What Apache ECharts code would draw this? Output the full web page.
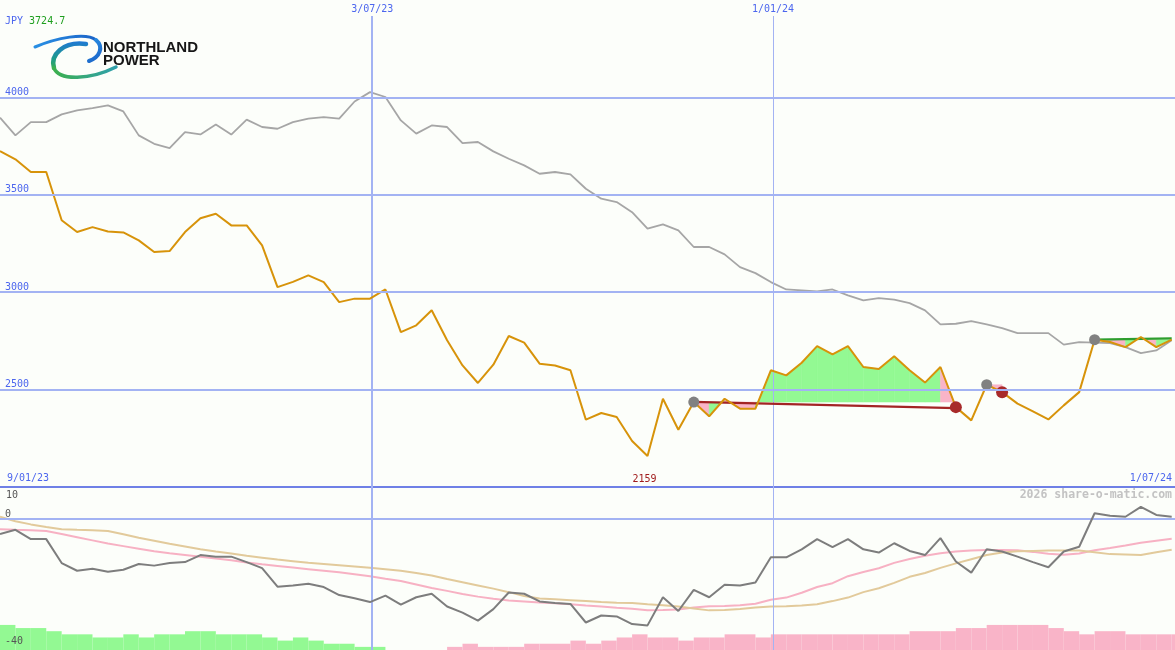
<!DOCTYPE html>
<html><head><meta charset="utf-8">
<script src="https://cdn.jsdelivr.net/npm/echarts@6/dist/echarts.min.js"></script>
<style>html,body{margin:0;padding:0;background:#fcfefa}#c{width:1175px;height:650px}</style>
</head><body><div id="c"></div>
<script>
// ---------- data ----------
const firstWeek = [2023, 0, 15];          // first weekly point
const axisEnd = [2024, 6, 1, 12];         // right edge of the time axis
const headerCurrency = 'JPY';
const headerValue = '3724.7';

const price = [3724.7,3682,3617,3617,3369,3309,3334,3312,3307,3266,
  3206,3211,3309,3380,3403,3343,3343,3240,3026,3053,
  3086,3052,2949,2967,2967,3014,2795,2830,2907,2753,
  2624,2534,2628,2775,2741,2633,2624,2599,2346,2380,
  2359,2236,2159,2453,2294,2436,2363,2453,2402,2402,
  2599,2573,2638,2723,2681,2723,2616,2606,2671,2599,
  2536,2616,2410,2342,2525,2487,2428,2388,2347,2419,
  2487,2756,2744,2718,2770,2718,2757];

const priceAvg = [3896,3805,3873,3873,3913,3933,3945,3959,3928,3805,
  3762,3740,3822,3810,3861,3809,3886,3848,3839,3873,
  3891,3899,3891,3979,4027,4002,3882,3814,3856,3848,
  3765,3771,3723,3685,3651,3608,3617,3605,3531,3480,
  3463,3411,3326,3348,3317,3232,3232,3194,3129,3098,
  3052,3014,3009,3004,3014,2984,2958,2970,2962,2944,
  2907,2835,2838,2852,2835,2816,2790,2790,2790,2731,
  2744,2741,2739,2718,2687,2701,2753];

const momentum = [-4.7,-3.4,-6.3,-6.3,-13.8,-16.2,-15.6,-16.5,-15.9,-14.1,
  -14.6,-13.8,-13.5,-11.3,-11.8,-11.8,-13.5,-15.4,-21.2,-20.8,
  -20.3,-21.3,-23.8,-24.8,-26,-24,-26.8,-24.5,-23.4,-27.4,
  -29.3,-31.8,-28.2,-23.0,-23.4,-25.8,-26.3,-26.6,-32.4,-30.2,
  -30.5,-32.9,-33.3,-24.5,-28.8,-22.2,-24.5,-20.6,-20.8,-19.9,
  -12.0,-12.0,-9.5,-6.3,-8.8,-6.3,-9.5,-10.5,-7.6,-10,
  -11.3,-6.0,-13.3,-16.8,-9.5,-10.2,-11.8,-13.5,-15.1,-10.2,
  -8.7,1.8,1.0,0.7,3.8,1.25,0.7];

const momentumFast = [-3.2,-3.4,-3.5,-3.8,-4.7,-5.7,-6.7,-7.7,-8.5,-9.3,
  -10.1,-10.7,-11.25,-11.8,-12.4,-12.9,-13.6,-14.2,-14.7,-15.2,
  -15.7,-16.2,-16.7,-17.3,-17.9,-18.7,-19.4,-20.5,-21.6,-22.5,
  -23.5,-24.3,-25,-25.5,-25.8,-26.1,-26.4,-26.7,-27.1,-27.4,
  -27.8,-28.1,-28.6,-28.5,-28.3,-27.7,-27.3,-27.2,-27,-26.5,
  -25.3,-24.6,-23.1,-21.3,-20.1,-17.9,-16.6,-15.4,-13.75,-12.5,
  -11.5,-10.7,-10.2,-9.9,-9.7,-9.75,-9.8,-10.3,-10.9,-11.2,
  -10.8,-9.8,-9.1,-8.3,-7.45,-6.8,-6.2];

const momentumSlow = [0.7,-0.7,-1.7,-2.5,-3.2,-3.4,-3.5,-3.75,-4.8,-5.9,
  -6.8,-7.75,-8.6,-9.5,-10.2,-10.8,-11.5,-12.1,-12.7,-13.2,
  -13.7,-14.1,-14.5,-14.9,-15.3,-15.75,-16.2,-16.9,-17.7,-18.8,
  -19.8,-20.8,-21.8,-22.9,-24.1,-24.9,-25.1,-25.4,-25.7,-26,
  -26.2,-26.3,-26.7,-27,-27.4,-28,-28.6,-28.5,-28.2,-27.7,
  -27.4,-27.3,-27.1,-26.7,-25.7,-24.6,-22.9,-21.7,-20,-18.1,
  -16.9,-15.3,-13.9,-12.6,-11.3,-10.5,-10.1,-10,-9.9,-9.9,
  -9.9,-10.4,-11,-11.1,-11.25,-10.4,-9.6];

// signed strength histogram (+ green, - pink)
const histogram = [8,7,7,6,5,5,4,4,5,4, 5,5,6,6,5,5,5,4,3,4,
  3,2,2,1,1,0,0,0,0,-1, -2,-1,-1,-1,-2,-2,-2,-3,-2,-3,
  -4,-5,-4,-4,-3,-4,-4,-5,-5,-4, -5,-5,-5,-5,-5,-5,-5,-5,-5,-6,
  -6,-6,-7,-7,-8,-8,-8,-8,-7,-6, -5,-6,-6,-5,-5,-5,-5];

// trade signals (week indices)
const signalStart = [45, 64, 71];
const signalEnd = [62, 65, 76];
const exitWeeks = [62, 65];
const redStop = [2437, 2405];      // from signalStart[0] to signalEnd[0]
const greenStop = [2757, 2763];    // from signalStart[2] to signalEnd[2]

const dateLines = ['2023-07-03', '2024-01-01'];
const dateLineLabels = ['3/07/23', '1/01/24'];
const edgeLabels = ['9/01/23', '1/07/24'];
const lowerTicks = [0, -40];
const lowerTopTick = [10];
const watermark = '2026 share-o-matic.com';

// ---------- build ----------
const DAY = 86400000;
const t0 = Date.UTC(...firstWeek);
const xMax = Date.UTC(...axisEnd);
const weeks = price.map((_, i) => t0 + i * 7 * DAY);
const pair = arr => arr.map((v, i) => [weeks[i], v]);

const C = {
  grid: '#a3b3f3', axisDark: '#6f80e6', label: '#4c66ee', orange: '#d7930a',
  grey: '#a6a6a6', green: '#93f993', pink: '#f9b4c8', red: '#a32424',
  dotRed: '#a82a2a', dotGrey: '#818181', stopGreen: '#2e9e2e'
};
const MONO = '"DejaVu Sans Mono", monospace';
const plain = v => String(v);

const fillSegments = [];
signalStart.forEach((s, k) => {
  const base = price[s];
  for (let i = s; i < signalEnd[k]; i++) {
    fillSegments.push([weeks[i], price[i], weeks[i + 1], price[i + 1], base]);
  }
});

const histData = histogram.map((v, i) => [weeks[i], i + 1 < weeks.length ? weeks[i + 1] : xMax, Math.abs(v), v])
  .filter(d => d[2] > 0);

let minIdx = 0;
price.forEach((v, i) => { if (v < price[minIdx]) minIdx = i; });

const PMIN = 2000, PMAX = 4500;

const gradBlue = {type: 'linear', x: 0, y: 0, x2: 1, y2: 1,
  colorStops: [{offset: 0, color: '#2a93e6'}, {offset: 1, color: '#1a5fc4'}]};
const gradRing = {type: 'linear', x: 0, y: 0, x2: 0, y2: 1,
  colorStops: [{offset: 0, color: '#1f78d6'}, {offset: 0.6, color: '#1d9a8a'}, {offset: 1, color: '#3cb04a'}]};
const gradTail = {type: 'linear', x: 0, y: 0, x2: 1, y2: 0,
  colorStops: [{offset: 0, color: '#3cb04a'}, {offset: 1, color: '#2f9fb0'}]};

function curve(x1, y1, cpx1, cpy1, cpx2, cpy2, x2, y2, stroke, w) {
  return {type: 'bezierCurve', z: 10, silent: true,
    shape: {x1, y1, cpx1, cpy1, cpx2, cpy2, x2, y2},
    style: {fill: null, stroke, lineWidth: w, lineCap: 'round'}};
}

const chart = echarts.init(document.getElementById('c'), null, {renderer: 'canvas'});
const option = {
  animation: false,
  backgroundColor: '#fcfefa',
  title: {
    left: 5, top: 16, padding: 0,
    text: '{a|' + headerCurrency + '} {b|' + headerValue + '}',
    textStyle: {fontFamily: MONO, fontSize: 10, fontWeight: 'normal',
      rich: {a: {color: C.label, fontFamily: MONO, fontSize: 10},
             b: {color: '#1f9f1f', fontFamily: MONO, fontSize: 10}}}
  },
  grid: [
    {left: 0, right: 0, top: 0, height: 487},
    {left: 0, right: 0, top: 487, height: 163},
    {left: 0, right: 0, top: 16, bottom: 0}
  ],
  xAxis: [
    {type: 'time', gridIndex: 0, min: t0, max: xMax,
     axisLine: {show: true, onZero: false, lineStyle: {color: C.axisDark, width: 2}},
     axisTick: {show: false}, axisLabel: {show: false}, splitLine: {show: false}},
    {type: 'time', gridIndex: 1, min: t0, max: xMax, show: false},
    {type: 'time', gridIndex: 2, min: t0, max: xMax, show: false}
  ],
  yAxis: [
    {type: 'value', gridIndex: 0, min: PMIN, max: PMAX, interval: 500, position: 'left', z: 10,
     axisLine: {show: false}, axisTick: {show: false},
     axisLabel: {inside: true, margin: 5, showMinLabel: false, showMaxLabel: false, formatter: plain,
       color: C.label, fontFamily: MONO, fontSize: 10, verticalAlign: 'bottom'},
     splitLine: {show: true, lineStyle: {color: ['transparent', C.grid, C.grid, C.grid, C.grid, 'transparent'], width: 2}}},
    {type: 'value', gridIndex: 1, min: -41, max: 10, position: 'left', z: 10,
     axisLine: {show: false}, axisTick: {show: false}, splitLine: {show: false},
     axisLabel: {inside: true, margin: 5, customValues: lowerTicks, verticalAlign: 'bottom', formatter: plain,
       color: '#555555', fontFamily: MONO, fontSize: 10}},
    {type: 'value', gridIndex: 1, min: -41, max: 10, position: 'left', offset: 0, z: 10,
     axisLine: {show: false}, axisTick: {show: false}, splitLine: {show: false},
     axisLabel: {inside: true, margin: 6, customValues: lowerTopTick, verticalAlign: 'top', formatter: plain,
       color: '#555555', fontFamily: MONO, fontSize: 10, padding: [3, 0, 0, 0]}},
    {type: 'value', gridIndex: 1, min: 0, max: 52, show: false},
    {type: 'value', gridIndex: 2, min: 0, max: 1, show: false}
  ],
  graphic: [
    curve(35, 47, 56, 38, 86, 32, 96, 40, gradBlue, 3),
    curve(96, 40, 104, 47, 100, 57, 89, 61, gradBlue, 4),
    curve(86, 44, 63, 41, 50, 55, 54, 68, gradRing, 4.5),
    curve(54, 68, 59, 81, 90, 80, 116, 67, gradTail, 3.5),
    {type: 'text', x: 103, y: 48, z: 10, style: {text: 'NORTHLAND', fill: '#161616',
       font: 'bold 15px "Liberation Sans", Arial, sans-serif', verticalAlign: 'middle'}},
    {type: 'text', x: 103, y: 61, z: 10, style: {text: 'POWER', fill: '#161616',
       font: 'bold 15px "Liberation Sans", Arial, sans-serif', verticalAlign: 'middle'}},
    {type: 'text', left: 7, top: 473, z: 10, style: {text: edgeLabels[0], fill: C.label, font: '10px ' + MONO}},
    {type: 'text', right: 3, top: 473, z: 10, style: {text: edgeLabels[1], fill: C.label, font: '10px ' + MONO}},
    {type: 'text', right: 3, top: 489, z: 10, style: {text: watermark, fill: '#c3c3c3', font: 'bold 11.5px ' + MONO}}
  ],
  series: [
    {type: 'line', xAxisIndex: 2, yAxisIndex: 4, data: [[t0, -1]], symbol: 'none',
     lineStyle: {opacity: 0}, silent: true, z: 1,
     markLine: {symbol: 'none', silent: true,
       label: {show: true, position: 'end', distance: 2, formatter: '{b}', color: C.label, fontFamily: MONO, fontSize: 10},
       data: dateLines.map((d, k) => ({xAxis: d, name: dateLineLabels[k],
         lineStyle: {color: C.grid, width: k === 0 ? 2 : 1, type: 'solid'}}))}},
    {type: 'custom', xAxisIndex: 1, yAxisIndex: 3, z: 3, silent: true,
     encode: {x: [0, 1], y: 2}, data: histData,
     renderItem: (params, api) => {
       const p0 = api.coord([api.value(0), api.value(2)]);
       const p1 = api.coord([api.value(1), 0]);
       return {type: 'rect', shape: {x: p0[0], y: p0[1], width: p1[0] - p0[0], height: p1[1] - p0[1]},
         style: {fill: api.value(3) > 0 ? C.green : C.pink}};
     }},
    {type: 'line', xAxisIndex: 1, yAxisIndex: 1, data: pair(momentumFast), symbol: 'none', z: 4,
     lineStyle: {color: '#f7b1c3', width: 2},
     markLine: {symbol: 'none', silent: true, label: {show: false},
       data: [{yAxis: 0}], lineStyle: {color: C.grid, width: 2, type: 'solid'}}},
    {type: 'line', xAxisIndex: 1, yAxisIndex: 1, data: pair(momentumSlow), symbol: 'none', z: 4,
     lineStyle: {color: '#e2ca9b', width: 2}},
    {type: 'line', xAxisIndex: 1, yAxisIndex: 1, data: pair(momentum), symbol: 'none', z: 5,
     lineStyle: {color: '#7d7d7d', width: 2}},
    {type: 'custom', xAxisIndex: 0, yAxisIndex: 0, z: 3, silent: true,
     encode: {x: [0, 2], y: [1, 3, 4]}, data: fillSegments,
     renderItem: (params, api) => {
       const a = api.coord([api.value(0), api.value(1)]);
       const b = api.coord([api.value(2), api.value(3)]);
       const c = api.coord([api.value(2), api.value(4)]);
       const d = api.coord([api.value(0), api.value(4)]);
       const col = api.value(3) >= api.value(4) ? C.green : C.pink;
       return {type: 'polygon', shape: {points: [a, b, c, d]}, style: {fill: col, stroke: col, lineWidth: 0.5}};
     }},
    {type: 'line', xAxisIndex: 0, yAxisIndex: 0, data: pair(priceAvg), symbol: 'none', z: 4,
     lineStyle: {color: C.grey, width: 1.8}},
    {type: 'line', xAxisIndex: 0, yAxisIndex: 0, symbol: 'none', z: 5,
     data: [[weeks[signalStart[0]], redStop[0]], [weeks[signalEnd[0]], redStop[1]]],
     lineStyle: {color: C.red, width: 2.2}},
    {type: 'line', xAxisIndex: 0, yAxisIndex: 0, symbol: 'none', z: 5,
     data: [[weeks[signalStart[2]], greenStop[0]], [weeks[signalEnd[2]], greenStop[1]]],
     lineStyle: {color: C.stopGreen, width: 2.2}},
    {type: 'line', xAxisIndex: 0, yAxisIndex: 0, data: pair(price), symbol: 'none', z: 6,
     lineStyle: {color: C.orange, width: 2},
     markPoint: {symbol: 'circle', symbolSize: 0, silent: true,
       data: [{coord: [weeks[minIdx], PMIN], value: price[minIdx]}],
       label: {show: true, position: 'top', distance: 3, offset: [-3, 0], formatter: '{c}', color: '#a01c1c', fontFamily: MONO, fontSize: 10}}},
    {type: 'scatter', xAxisIndex: 0, yAxisIndex: 0, z: 7, symbolSize: 11,
     itemStyle: {color: C.dotGrey, opacity: 1},
     data: signalStart.map(i => [weeks[i], price[i]])},
    {type: 'scatter', xAxisIndex: 0, yAxisIndex: 0, z: 7, symbolSize: 12,
     itemStyle: {color: C.dotRed, opacity: 1},
     data: exitWeeks.map(i => [weeks[i], price[i]])}
  ]
};
chart.setOption(option);
</script>
</body></html>
